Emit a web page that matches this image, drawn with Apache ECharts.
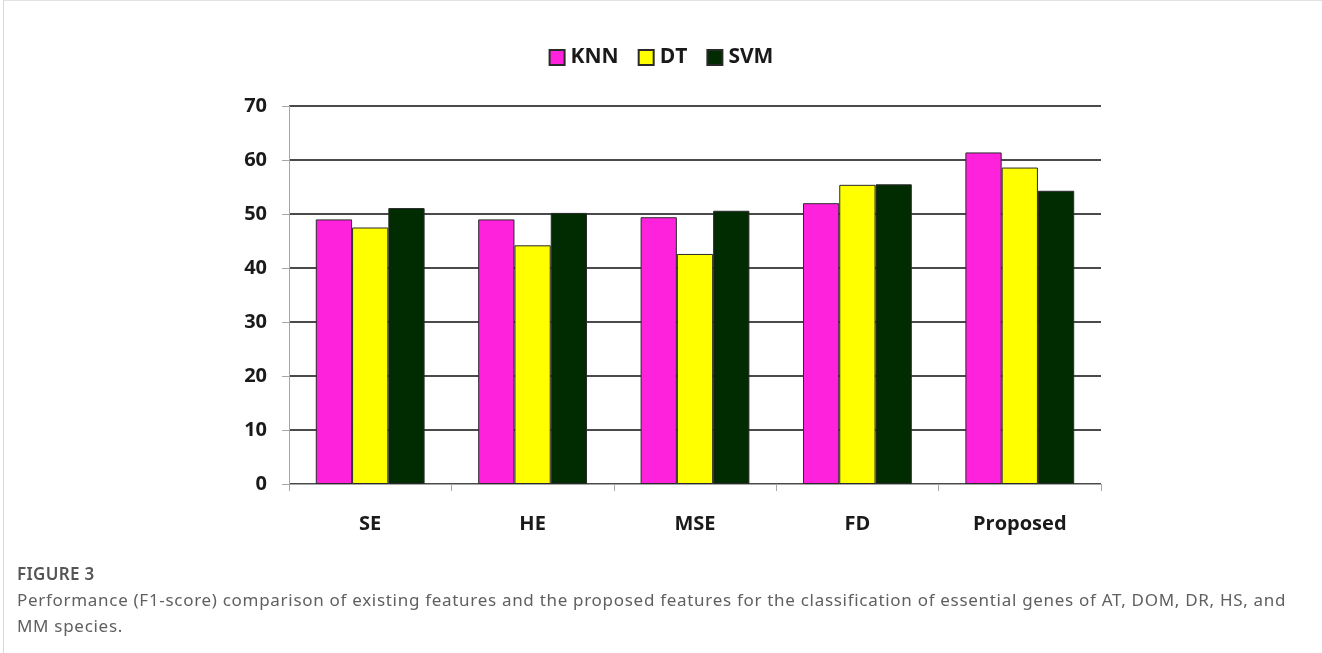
<!DOCTYPE html>
<html>
<head>
<meta charset="utf-8">
<script src="https://cdn.jsdelivr.net/npm/echarts@6/dist/echarts.min.js"></script>
<style>
  html, body { margin: 0; padding: 0; background: #fff; }
  .frame {
    position: absolute; left: 3px; top: 0; width: 1319px; height: 653px;
    border-left: 1px solid #d8d8d8; border-top: 1px solid #e2e2e2;
    box-sizing: border-box;
  }
  #chart { position: absolute; left: 0; top: 0; width: 1322px; height: 653px; }
  .caption {
    position: absolute; left: 17px; top: 561px; width: 1295px;
    font-family: 'Noto Sans', sans-serif; color: #606060; font-size: 17px;
  }
  .caption .fig { line-height: 26px; font-weight: 600; color: #555; letter-spacing: 0.3px; }
  .caption .desc { line-height: 26px; letter-spacing: 0.7px; }
</style>
</head>
<body>
<div id="chart"></div>
<div class="frame"></div>
<div class="caption">
  <div class="fig">FIGURE 3</div>
  <div class="desc">Performance (F1-score) comparison of existing features and the proposed features for the classification of essential genes of AT, DOM, DR, HS, and MM species.</div>
</div>
<script>
// 特征类别
const categories = ['SE', 'HE', 'MSE', 'FD', 'Proposed']
// 各分类器 F1 值
const knnValues = [49.0, 49.0, 49.4, 52.0, 61.4]
const dtValues = [47.5, 44.2, 42.6, 55.4, 58.6]
const svmValues = [51.1, 50.2, 50.6, 55.5, 54.3]
const yTicks = [0, 10, 20, 30, 40, 50, 60, 70]

const chart = echarts.init(document.getElementById('chart'))

const labelFont = {
  fontFamily: 'Open Sans, sans-serif',
  fontWeight: 'bold',
  fontSize: 20,
  color: '#1a1a1a'
}

function barSeries(name, data, color) {
  return {
    name: name,
    type: 'bar',
    data: data,
    barGap: '0%',
    barCategoryGap: '33%',
    itemStyle: {
      color: color,
      borderColor: '#2a2a2a',
      borderWidth: 1
    }
  }
}

const option = {
  animation: false,
  legend: {
    top: 42,
    left: 'center',
    itemWidth: 15,
    itemHeight: 15,
    itemGap: 19,
    icon: 'rect',
    textStyle: Object.assign({}, labelFont, { fontSize: 21, padding: [0, 0, 0, 1] }),
    data: ['KNN', 'DT', 'SVM']
  },
  grid: {
    left: 289,
    right: 221,
    top: 106,
    bottom: 169
  },
  xAxis: {
    type: 'category',
    data: categories,
    axisLine: { lineStyle: { color: '#a6a6a6', width: 1 } },
    axisTick: { show: true, length: 7, lineStyle: { color: '#a6a6a6' } },
    axisLabel: Object.assign({}, labelFont, { margin: 30 })
  },
  yAxis: {
    type: 'value',
    min: yTicks[0],
    max: yTicks[yTicks.length - 1],
    interval: 10,
    axisLine: { show: true, lineStyle: { color: '#a6a6a6', width: 1 } },
    axisTick: { show: true, length: 7, lineStyle: { color: '#a6a6a6' } },
    axisLabel: Object.assign({}, labelFont, { margin: 22 }),
    splitLine: { lineStyle: { color: '#4a4a4a', width: 2 } }
  },
  series: [
    barSeries('KNN', knnValues, '#ff22dd'),
    barSeries('DT', dtValues, '#ffff00'),
    barSeries('SVM', svmValues, '#012b01')
  ]
}

chart.setOption(option)
</script>
</body>
</html>
